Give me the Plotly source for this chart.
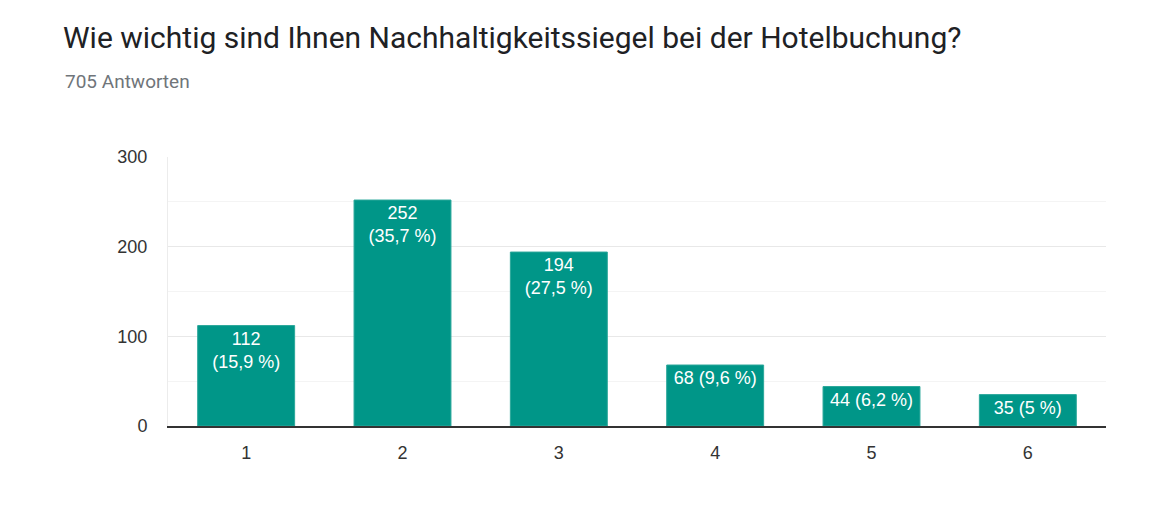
import plotly.graph_objects as go

categories = ["1", "2", "3", "4", "5", "6"]
counts = [112, 252, 194, 68, 44, 35]
percents = ["15,9", "35,7", "27,5", "9,6", "6,2", "5"]
total_responses = 705
title_text = "Wie wichtig sind Ihnen Nachhaltigkeitssiegel bei der Hotelbuchung?"
y_ticks = [0, 100, 200, 300]

labels = []
for c, p in zip(counts, percents):
    sep = "<br>" if c >= 100 else " "
    labels.append(f"{c}{sep}({p} %)")

# page body has an 8px default margin, so compensate
OFF = 8
W, H = 1155, 508
ml, mt = 168 - OFF, 157 - OFF
mr = W - (1106 - OFF)
mb = H - (426 - OFF)

fig = go.Figure(go.Bar(
    x=categories, y=counts, text=labels,
    textposition="inside", insidetextanchor="end",
    textfont=dict(family="Liberation Sans, Arial", size=18, color="white"),
    marker=dict(color="#009688", line=dict(color="#2aa79a", width=1)),
    width=0.62, cliponaxis=False, hoverinfo="skip",
))

fig.update_layout(
    width=W, height=H,
    margin=dict(l=ml, r=mr, t=mt, b=mb, autoexpand=False),
    paper_bgcolor="white", plot_bgcolor="white",
    showlegend=False,
    uniformtext=dict(minsize=18, mode="show"),
    title=dict(text=title_text, xref="container", yref="container",
               x=(63 - OFF) / W, y=1 - (37 - OFF) / H, xanchor="left", yanchor="middle",
               font=dict(family="Roboto", size=30, color="#202124")),
    annotations=[dict(text=f"{total_responses} Antworten", xref="paper", yref="paper",
                      x=(63 - OFF - ml) / (W - ml - mr), y=1 + (mt - (82 - OFF)) / (H - mt - mb),
                      xanchor="left", yanchor="middle", showarrow=False,
                      font=dict(family="Roboto", size=19, color="#70757a"))],
)

fig.update_yaxes(range=[0, 300], tickvals=y_ticks, showgrid=True, gridcolor="#e8e8e8",
                 gridwidth=1, zeroline=False, showline=True, linecolor="#ececec",
                 ticks="", ticklabelstandoff=16,
                 tickfont=dict(family="Liberation Sans, Arial", size=18, color="#333333"),
                 minor=dict(tickvals=[50, 150, 250], showgrid=True, gridcolor="#f4f4f4"))
fig.update_xaxes(showgrid=False, showline=True, linecolor="#333333", linewidth=1.5,
                 ticks="", ticklabelstandoff=10,
                 tickfont=dict(family="Liberation Sans, Arial", size=18, color="#333333"))

fig.write_html("out.html")
